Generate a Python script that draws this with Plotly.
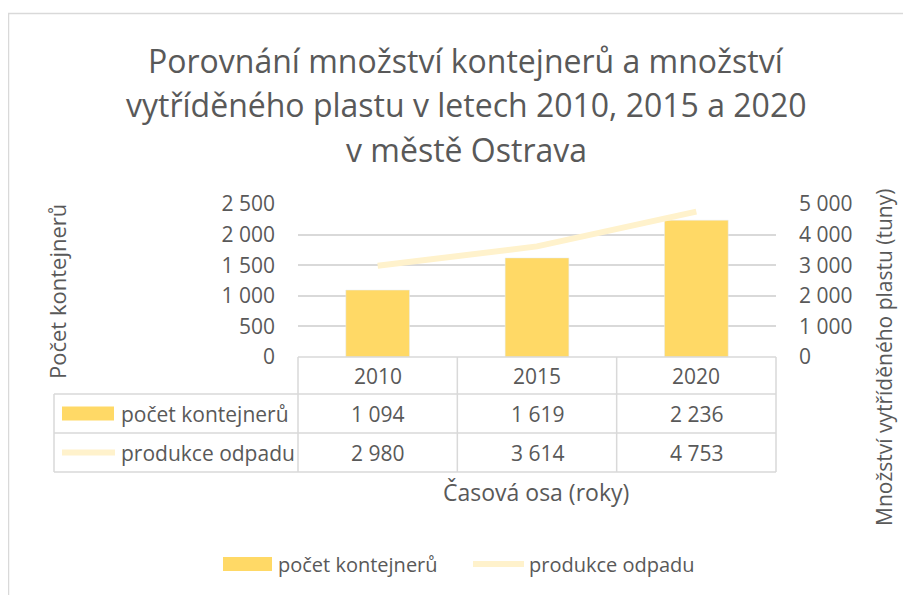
import plotly.graph_objects as go

# ---- data ----
years = ["2010", "2015", "2020"]
containers = [1094, 1619, 2236]
waste = [2980, 3614, 4753]
series_names = ["počet kontejnerů", "produkce odpadu"]
title_lines = ["Porovnání množství kontejnerů a množství",
               "vytříděného plastu v letech 2010, 2015 a 2020",
               "v městě Ostrava"]
left_ticks = [0, 500, 1000, 1500, 2000, 2500]
right_ticks = [0, 1000, 2000, 3000, 4000, 5000]

BAR = "#FFD966"
LINE = "#FFF2CC"
TXT = "#595959"
GRID = "#D9D9D9"
FONT = "Open Sans"

# page offset (default body margin of the html page)
OFF = 8
W, H = 911, 595
L, R, T, B = 298, 776, 204, 357   # plot area in screen pixels


def X(px):
    return (px - L) / (R - L)


def Y(py):
    return (B - py) / (B - T)


def fmt(v):
    return f"{v:,}".replace(",", " ")


fig = go.Figure()
fig.add_trace(go.Bar(x=years, y=containers, marker_color=BAR, width=0.4,
                     name=series_names[0], showlegend=False, yaxis="y"))
fig.add_trace(go.Scatter(x=years, y=waste, mode="lines",
                         line=dict(color=LINE, width=6),
                         name=series_names[1], showlegend=False, yaxis="y2"))

shapes = []
ann = []


def text(px, py, s, size, xanchor="center", angle=0):
    ann.append(dict(x=X(px), y=Y(py), text=s, xref="paper", yref="paper",
                    xanchor=xanchor, yanchor="middle", showarrow=False,
                    textangle=angle,
                    font=dict(family=FONT, size=size, color=TXT)))


# chart border
shapes.append(dict(type="rect", xref="paper", yref="paper",
                   x0=X(8.5), x1=X(930), y0=Y(620), y1=Y(13.5),
                   line=dict(color=GRID, width=1.5), layer="below"))

# data table lines
row_y = [357, 394, 433, 472]
col_x = [L + (R - L) * i / 3 for i in range(4)]
tbl_left = 54


def hline(y, x0, x1):
    shapes.append(dict(type="line", xref="paper", yref="paper",
                       x0=X(x0), x1=X(x1), y0=Y(y), y1=Y(y),
                       line=dict(color=GRID, width=1.5)))


def vline(x, y0, y1):
    shapes.append(dict(type="line", xref="paper", yref="paper",
                       x0=X(x), x1=X(x), y0=Y(y0), y1=Y(y1),
                       line=dict(color=GRID, width=1.5)))


hline(row_y[0], L, R)
for y in row_y[1:]:
    hline(y, tbl_left, R)
for x in col_x:
    vline(x, row_y[0], row_y[3])
vline(tbl_left, row_y[1], row_y[3])

# table text
r0 = (row_y[0] + row_y[1]) / 2
r1 = (row_y[1] + row_y[2]) / 2
r2 = (row_y[2] + row_y[3]) / 2
for i, yr in enumerate(years):
    cx = (col_x[i] + col_x[i + 1]) / 2
    text(cx, r0, yr, 21)
    text(cx, r1, fmt(containers[i]), 21)
    text(cx, r2, fmt(waste[i]), 21)

# table legend keys
shapes.append(dict(type="rect", xref="paper", yref="paper",
                   x0=X(62), x1=X(114), y0=Y(r1 + 7), y1=Y(r1 - 7),
                   fillcolor=BAR, line=dict(width=0)))
shapes.append(dict(type="line", xref="paper", yref="paper",
                   x0=X(62), x1=X(115), y0=Y(r2), y1=Y(r2),
                   line=dict(color=LINE, width=6)))
text(119, r1, series_names[0], 21, "left")
text(119, r2, series_names[1], 21, "left")

# bottom legend
ly = 564
shapes.append(dict(type="rect", xref="paper", yref="paper",
                   x0=X(223), x1=X(272), y0=Y(ly + 7), y1=Y(ly - 7),
                   fillcolor=BAR, line=dict(width=0)))
shapes.append(dict(type="line", xref="paper", yref="paper",
                   x0=X(473), x1=X(524), y0=Y(ly), y1=Y(ly),
                   line=dict(color=LINE, width=6)))
text(276, ly, series_names[0], 20, "left")
text(527, ly, series_names[1], 20, "left")

# title
for t_, py in zip(title_lines, [60, 104, 149]):
    text(466, py, t_, 32)

# axis titles
text(57, 292, "Počet kontejnerů", 22, angle=-90)
text(884, 358, "Množství vytříděného plastu (tuny)", 21, angle=-90)
text(536, 492, "Časová osa (roky)", 23)

fig.update_layout(
    width=W - OFF, height=H - OFF,
    margin=dict(l=L - OFF, r=W - R, t=T - OFF, b=H - B, pad=0),
    paper_bgcolor="white", plot_bgcolor="white",
    separators=", ",
    showlegend=False,
    shapes=shapes, annotations=ann,
    xaxis=dict(type="category", showticklabels=False, showgrid=False,
               zeroline=False, showline=False, ticks=""),
    yaxis=dict(range=[0, 2500], tickvals=left_ticks, tickformat=",d",
               showgrid=True, gridcolor=GRID, gridwidth=1.5, zeroline=False,
               showline=False, ticks="", ticklabelstandoff=22,
               tickfont=dict(family=FONT, size=21, color=TXT)),
    yaxis2=dict(range=[0, 5000], tickvals=right_ticks, tickformat=",d",
                overlaying="y", side="right", showgrid=False, zeroline=False,
                showline=False, ticks="", ticklabelstandoff=22,
                tickfont=dict(family=FONT, size=21, color=TXT)),
)

fig.write_html("out.html")
